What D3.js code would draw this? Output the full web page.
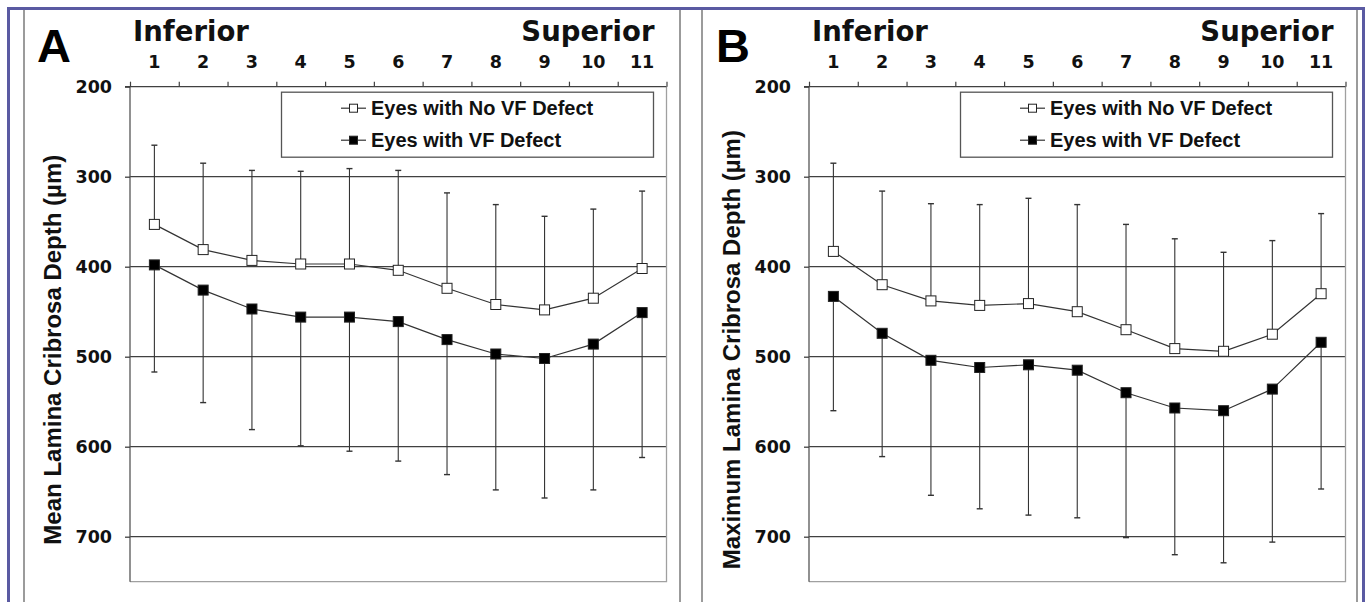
<!DOCTYPE html>
<html>
<head>
<meta charset="utf-8">
<script src="https://cdn.jsdelivr.net/npm/d3@7"></script>
<style>
  body { margin: 0; background: #fff; }
  svg { display: block; }
</style>
</head>
<body>
<svg id="chart" width="1370" height="602"></svg>
<script>
// categories along the top (sector 1 = inferior ... 11 = superior)
const categories = ['1', '2', '3', '4', '5', '6', '7', '8', '9', '10', '11']
const yTicks = [200, 300, 400, 500, 600, 700]
const legendLabels = ['Eyes with No VF Defect', 'Eyes with VF Defect']

// panel A - mean lamina cribrosa depth
const meanNoVF_A = [353, 381, 393, 397, 397, 404, 424, 442, 448, 435, 402]
const sdNoVF_A = [88, 96, 100, 103, 106, 111, 106, 111, 104, 99, 86]
const meanVF_A = [398, 426, 447, 456, 456, 461, 481, 497, 502, 486, 451]
const sdVF_A = [119, 125, 134, 143, 149, 155, 150, 151, 155, 162, 161]

// panel B - maximum lamina cribrosa depth
const meanNoVF_B = [383, 420, 438, 443, 441, 450, 470, 491, 494, 475, 430]
const sdNoVF_B = [98, 104, 108, 112, 117, 119, 117, 122, 110, 104, 89]
const meanVF_B = [433, 474, 504, 512, 509, 515, 540, 557, 560, 536, 484]
const sdVF_B = [127, 137, 150, 157, 167, 164, 161, 163, 169, 170, 163]

const svg = d3.select('#chart')
const arial = "'Liberation Sans', Arial, sans-serif"
const verdana = "'DejaVu Sans', Verdana, sans-serif"

// outer frame
svg.append('rect')
    .attr('x', 8.5).attr('y', 8.5)
    .attr('width', 1355).attr('height', 640)
    .attr('fill', 'none')
    .attr('stroke', '#5a5aa2')
    .attr('stroke-width', 3)
;[24, 680, 702, 1357].forEach(xx => {
    svg.append('line')
        .attr('x1', xx).attr('x2', xx)
        .attr('y1', 10).attr('y2', 602)
        .attr('stroke', '#7a7a7a')
        .attr('stroke-width', 1.5)
})

const plotTop = 86.7
const width = 536.5
const height = 495

function drawPanel(opts) {
    const { left, letter, title, noVF, noVFsd, vf, vfsd } = opts
    const g = svg.append('g').attr('transform', `translate(${left}, ${plotTop})`)

    const x = d3.scaleBand().domain(categories).range([0, width])
    const xEdge = d3.scaleLinear().domain([0, categories.length]).range([0, width])
    const y = d3.scaleLinear().domain([200, 750]).range([0, height])

    // gridlines
    g.selectAll('.grid')
        .data(yTicks.slice(1))
        .enter().append('line')
        .attr('x1', 0).attr('x2', width)
        .attr('y1', d => y(d)).attr('y2', d => y(d))
        .attr('stroke', '#404040')
        .attr('stroke-width', 1.3)

    // plot frame: light right & bottom, dark left & top
    g.append('path')
        .attr('d', `M${width},0V${height}H0`)
        .attr('fill', 'none')
        .attr('stroke', '#a0a0a0')
        .attr('stroke-width', 1.3)
    g.append('line')
        .attr('x1', 0).attr('x2', 0).attr('y1', 0).attr('y2', height)
        .attr('stroke', '#555').attr('stroke-width', 1.3)
    g.append('line')
        .attr('x1', -5).attr('x2', width).attr('y1', 0).attr('y2', 0)
        .attr('stroke', '#404040').attr('stroke-width', 1.3)

    // top ticks at sector boundaries
    const edgeAxis = d3.axisTop(xEdge)
        .tickValues(d3.range(0, categories.length + 1))
        .tickSize(5)
        .tickFormat('')
    const ge = g.append('g').call(edgeAxis)
    ge.select('.domain').remove()
    ge.selectAll('line').attr('stroke', '#404040').attr('stroke-width', 1.2)

    // sector numbers
    const topAxis = d3.axisTop(x).tickSize(0).tickPadding(18.5)
    const gt = g.append('g').call(topAxis)
    gt.select('.domain').remove()
    gt.selectAll('text')
        .attr('font-family', verdana)
        .attr('font-weight', 'bold')
        .attr('font-size', '17.5px')
        .attr('fill', '#111')

    // left axis
    const leftAxis = d3.axisLeft(y).tickValues(yTicks).tickSize(5).tickPadding(13)
    const gl = g.append('g').call(leftAxis)
    gl.select('.domain').remove()
    gl.selectAll('line').attr('stroke', '#404040').attr('stroke-width', 1.3)
    gl.selectAll('text')
        .attr('font-family', verdana)
        .attr('font-weight', 'bold')
        .attr('font-size', '17.5px')
        .attr('fill', '#111')

    // error bars: no-defect upward, defect downward
    const cx = d => x(d) + x.bandwidth() / 2
    const cap = 3
    const bars = [
        { mean: noVF, sd: noVFsd, dir: -1 },
        { mean: vf, sd: vfsd, dir: 1 }
    ]
    bars.forEach(b => {
        categories.forEach((c, i) => {
            const end = b.mean[i] + b.dir * b.sd[i]
            g.append('line')
                .attr('x1', cx(c)).attr('x2', cx(c))
                .attr('y1', y(b.mean[i])).attr('y2', y(end))
                .attr('stroke', '#333').attr('stroke-width', 1.1)
            g.append('line')
                .attr('x1', cx(c) - cap).attr('x2', cx(c) + cap)
                .attr('y1', y(end)).attr('y2', y(end))
                .attr('stroke', '#333').attr('stroke-width', 1.4)
        })
    })

    // series lines + markers
    const line = d3.line().x((d, i) => cx(categories[i])).y(d => y(d))
    const series = [
        { values: noVF, fill: '#fff' },
        { values: vf, fill: '#000' }
    ]
    series.forEach(s => {
        g.append('path')
            .attr('d', line(s.values))
            .attr('fill', 'none')
            .attr('stroke', '#333')
            .attr('stroke-width', 1.2)
        g.selectAll(null)
            .data(s.values)
            .enter().append('rect')
            .attr('x', (d, i) => cx(categories[i]) - 5)
            .attr('y', d => y(d) - 5)
            .attr('width', 10).attr('height', 10)
            .attr('fill', s.fill)
            .attr('stroke', '#222')
            .attr('stroke-width', 1)
    })

    // legend
    const lg = g.append('g').attr('transform', 'translate(151, 5)')
    lg.append('rect')
        .attr('x', 0.5).attr('y', 0.5)
        .attr('width', 372).attr('height', 65)
        .attr('fill', '#fff')
        .attr('stroke', '#555')
        .attr('stroke-width', 1.3)
    legendLabels.forEach((lab, i) => {
        const ly = 16.5 + i * 32
        lg.append('line')
            .attr('x1', 60).attr('x2', 85).attr('y1', ly).attr('y2', ly)
            .attr('stroke', '#333').attr('stroke-width', 1.2)
        lg.append('rect')
            .attr('x', 68.5).attr('y', ly - 4).attr('width', 8).attr('height', 8)
            .attr('fill', series[i].fill).attr('stroke', '#222').attr('stroke-width', 1)
        lg.append('text')
            .attr('x', 90).attr('y', ly + 7.2)
            .attr('font-family', arial)
            .attr('font-weight', 'bold')
            .attr('font-size', '20px')
            .attr('fill', '#111')
            .text(lab)
    })

    // y title
    g.append('text')
        .attr('transform', `translate(-69.5, 263) rotate(-90)`)
        .attr('text-anchor', 'middle')
        .attr('font-family', arial)
        .attr('font-weight', 'bold')
        .attr('font-size', '24px')
        .attr('fill', '#111')
        .text(title)

    // Inferior / Superior
    g.append('text')
        .attr('x', 3).attr('y', -45.5)
        .attr('font-family', verdana)
        .attr('font-weight', 'bold')
        .attr('font-size', '27.5px')
        .attr('fill', '#111')
        .text('Inferior')
    g.append('text')
        .attr('x', width - 12).attr('y', -45.5)
        .attr('text-anchor', 'end')
        .attr('font-family', verdana)
        .attr('font-weight', 'bold')
        .attr('font-size', '27.5px')
        .attr('fill', '#111')
        .text('Superior')

    // panel letter
    g.append('text')
        .attr('x', -93).attr('y', -24.5)
        .attr('font-family', arial)
        .attr('font-weight', 'bold')
        .attr('font-size', '47px')
        .attr('fill', '#000')
        .text(letter)
}

drawPanel({
    left: 130, letter: 'A', title: 'Mean Lamina Cribrosa Depth (µm)',
    noVF: meanNoVF_A, noVFsd: sdNoVF_A, vf: meanVF_A, vfsd: sdVF_A
})
drawPanel({
    left: 809, letter: 'B', title: 'Maximum Lamina Cribrosa Depth (µm)',
    noVF: meanNoVF_B, noVFsd: sdNoVF_B, vf: meanVF_B, vfsd: sdVF_B
})
</script>
</body>
</html>
